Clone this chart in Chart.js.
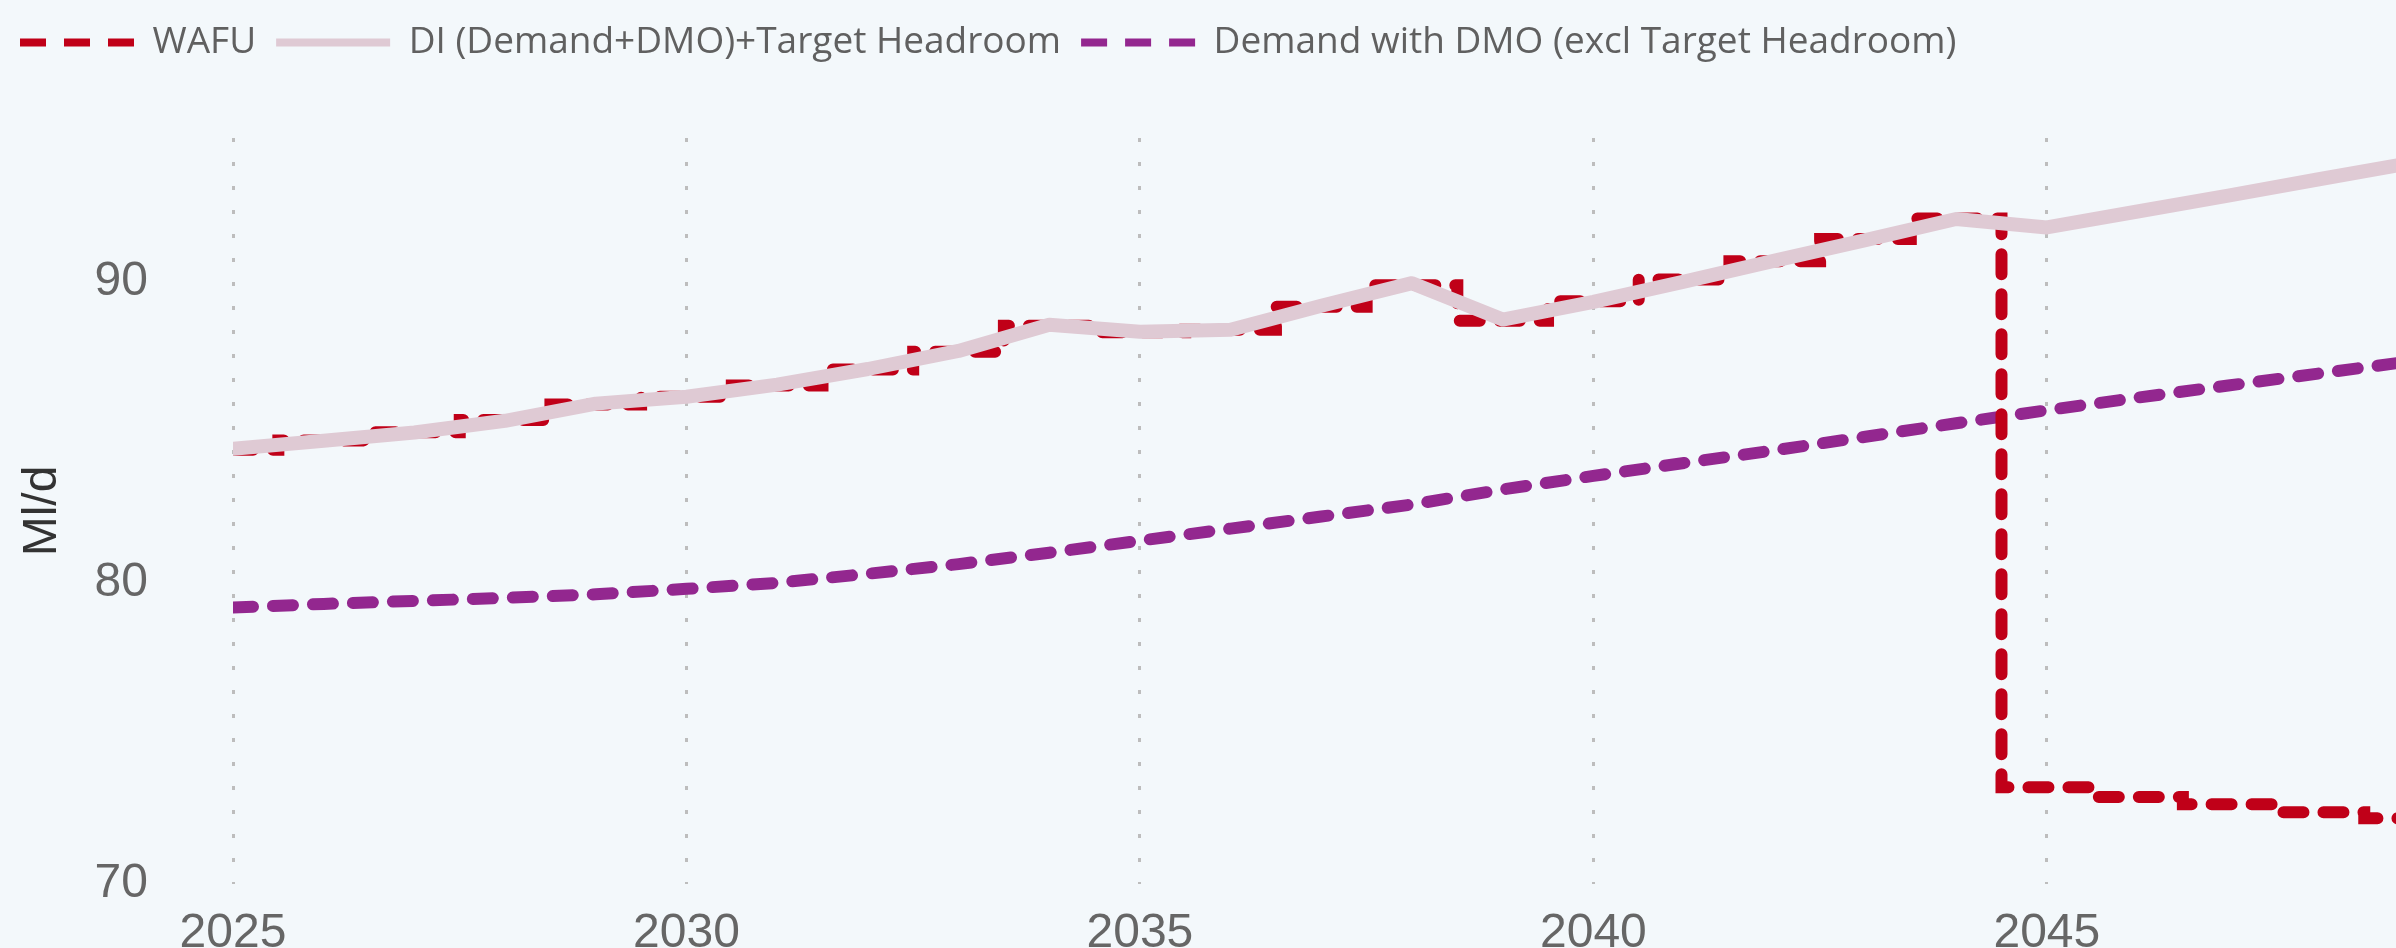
<!DOCTYPE html>
<html>
<head>
  <meta charset="UTF-8">
  <title>WAFU vs DI</title>
  <script src="https://cdn.jsdelivr.net/npm/chart.js"></script>
  <style>
    * { margin: 0; padding: 0; box-sizing: border-box; }
    html, body { width: 2396px; height: 948px; background: #f3f8fb; overflow: hidden; }
    .wrap { position: relative; width: 2396px; height: 948px; }
  </style>
</head>
<body>
  <div class="wrap"><canvas id="chart"></canvas></div>

  <script>
    // --- Data (Ml/d) ---
    const years = [2025, 2026, 2027, 2028, 2029, 2030, 2031, 2032, 2033, 2034, 2035, 2036,
                   2037, 2038, 2039, 2040, 2041, 2042, 2043, 2044, 2045, 2046, 2047, 2048, 2049];

    const wafu = [84.42, 84.73, 85.0, 85.41, 85.92, 86.18, 86.55, 87.08, 87.67, 88.54, 88.32, 88.4,
                  89.17, 89.88, 88.7, 89.35, 90.07, 90.68, 91.42, 92.1, 73.21, 72.89, 72.65, 72.38, 72.18];

    const diTarget = [84.45, 84.72, 84.99, 85.38, 85.95, 86.18, 86.58, 87.1, 87.7, 88.57, 88.34, 88.4,
                      89.2, 89.95, 88.74, 89.33, 90.0, 90.7, 91.38, 92.08, 91.8, 92.33, 92.86, 93.4, 93.93];

    const demandDmo = [79.18, 79.3, 79.4, 79.5, 79.62, 79.8, 80.0, 80.3, 80.62, 81.0, 81.4, 81.8,
                       82.2, 82.6, 83.1, 83.55, 83.98, 84.4, 84.85, 85.3, 85.73, 86.15, 86.55, 86.95, 87.35];

    const xTicks = [2025, 2030, 2035, 2040, 2045];
    const yTicks = [70, 80, 90];

    const toPoints = (vals) => years.map((yr, i) => ({ x: yr, y: vals[i] }));

    const RED = '#c00018';
    const PINK = '#dfcad4';
    const PURPLE = '#93278f';

    // push the plot area down under the legend row
    const legendSpacer = {
      id: 'legendSpacer',
      beforeInit(chart) {
        const fitLegend = chart.legend.fit;
        chart.legend.fit = function () {
          fitLegend.call(this);
          this.height = 134;
        };
      }
    };

    new Chart(document.getElementById('chart'), {
      type: 'line',
      data: {
        datasets: [
          {
            label: 'WAFU',
            data: toPoints(wafu),
            borderColor: RED,
            backgroundColor: RED,
            borderWidth: 12,
            borderDash: [20, 20],
            borderCapStyle: 'round',
            stepped: 'middle',
            pointRadius: 0,
            order: 1,
          },
          {
            label: 'DI (Demand+DMO)+Target Headroom',
            data: toPoints(diTarget),
            borderColor: PINK,
            backgroundColor: PINK,
            borderWidth: 14,
            borderCapStyle: 'round',
            borderJoinStyle: 'round',
            pointRadius: 0,
            tension: 0,
            order: 0,
          },
          {
            label: 'Demand with DMO (excl Target Headroom)',
            data: toPoints(demandDmo),
            borderColor: PURPLE,
            backgroundColor: PURPLE,
            borderWidth: 12,
            borderDash: [20, 20],
            borderCapStyle: 'round',
            pointRadius: 0,
            tension: 0,
            order: 2,
          }
        ]
      },
      options: {
        responsive: true,
        maintainAspectRatio: false,
        animation: false,
        layout: { autoPadding: false, padding: { top: 4, left: 0, right: 0, bottom: 0 } },
        plugins: {
          tooltip: { enabled: false },
          legend: {
            position: 'top',
            align: 'start',
            labels: {
              usePointStyle: true,
              pointStyle: 'line',
              pointStyleWidth: 114,
              padding: 20,
              color: '#606060',
              font: { family: "'Open Sans'", size: 37 },
              sort: (a, b) => a.datasetIndex - b.datasetIndex,
              generateLabels(chart) {
                const items = Chart.defaults.plugins.legend.labels.generateLabels(chart);
                items.forEach(it => {
                  const ds = chart.data.datasets[it.datasetIndex];
                  it.lineWidth = 8;
                  it.lineCap = 'butt';
                  it.strokeStyle = ds.borderColor;
                  it.lineDash = ds.borderDash ? [26, 18] : [];
                });
                return items;
              }
            }
          }
        },
        scales: {
          x: {
            type: 'linear',
            min: 2025,
            max: 2048.85,
            afterBuildTicks: (axis) => { axis.ticks = xTicks.map(v => ({ value: v })); },
            afterFit: (axis) => {
              axis.height = 64;
              axis.paddingLeft = 0;
              axis.paddingRight = 0;
            },
            ticks: {
              padding: 21,
              color: '#666',
              font: { family: "'Liberation Sans'", size: 48 },
              callback: (v) => String(v),
              maxRotation: 0,
              autoSkip: false,
            },
            grid: { color: '#bdbdbd', lineWidth: 3, drawTicks: false },
            border: { display: false, dash: [4, 20] },
          },
          y: {
            min: 70,
            max: 94.77,
            afterBuildTicks: (axis) => { axis.ticks = yTicks.map(v => ({ value: v })); },
            afterFit: (axis) => {
              axis.width = 233;
              axis.paddingTop = 0;
              axis.paddingBottom = 0;
            },
            ticks: {
              padding: 85,
              color: '#666',
              font: { family: "'Liberation Sans'", size: 48 },
            },
            grid: { display: false, drawTicks: false },
            border: { display: false },
            title: {
              display: true,
              text: 'Ml/d',
              color: '#333',
              font: { family: "'Liberation Sans'", size: 48 },
              padding: { top: 14, bottom: 0 },
            }
          }
        }
      },
      plugins: [legendSpacer]
    });
  </script>
</body>
</html>
